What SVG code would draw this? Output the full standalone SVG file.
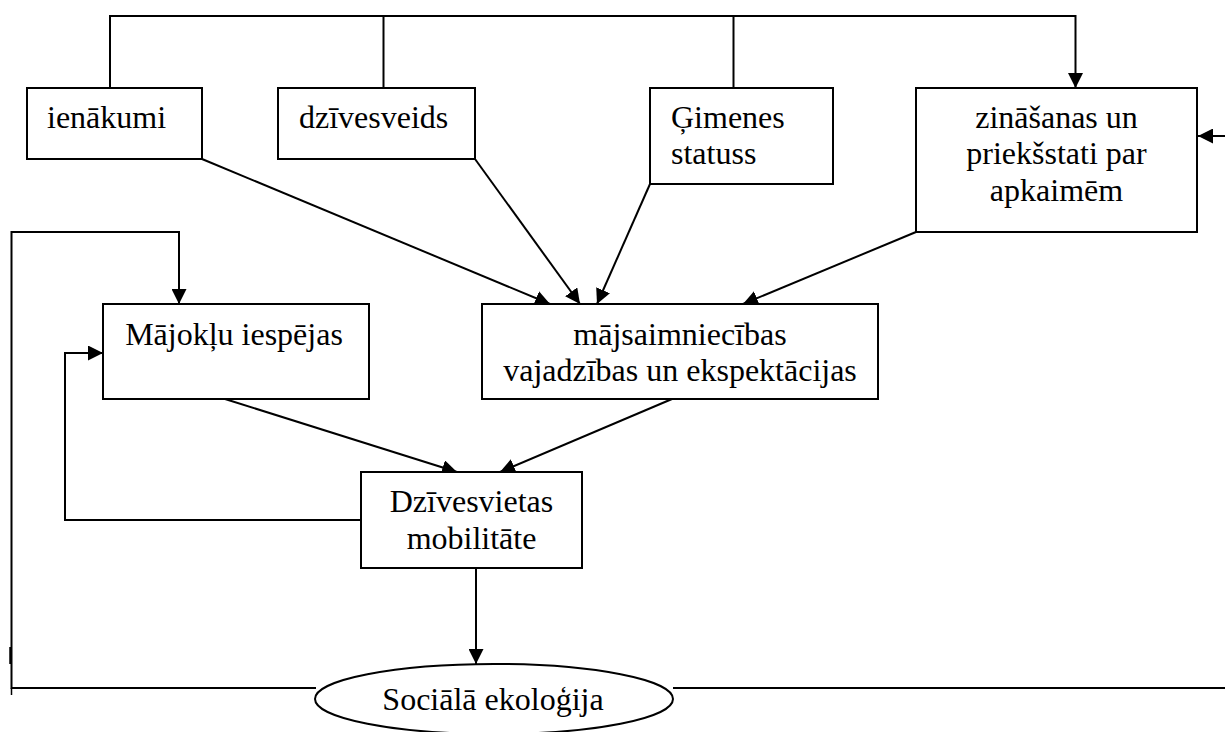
<svg xmlns="http://www.w3.org/2000/svg" width="1225" height="732" viewBox="0 0 1225 732">
<defs>
<marker id="ah" markerUnits="userSpaceOnUse" markerWidth="15" markerHeight="15" refX="15" refY="7.5" orient="auto">
<path d="M0,0 L15,7.5 L0,15 z" fill="#000"/>
</marker>
<style>
.box{fill:#fff;stroke:#000;stroke-width:2}
.t{font-family:"Liberation Serif","Times New Roman",serif;font-size:32px;fill:#000}
.m{text-anchor:middle}
.c{fill:none;stroke:#000;stroke-width:2}
.a{marker-end:url(#ah)}
</style>
</defs>
<rect width="1225" height="732" fill="#fff"/>
<g id="connectors">
<path class="c" d="M110,88 V16 H1075.5 V88" marker-end="url(#ah)"/>
<path class="c" d="M383.5,88 V16"/>
<path class="c" d="M733.5,88 V16"/>
<path class="c a" d="M1225,136 H1198"/>
<path class="c a" d="M202,159 L550,304"/>
<path class="c a" d="M475,159 L580,304"/>
<path class="c a" d="M650,184 L597,304"/>
<path class="c a" d="M916,232 L743,304"/>
<path class="c a" d="M316,688 H11.5 V232 H179 V304"/>
<path class="c" d="M11.5,688 V695" style="stroke-width:1.5"/>
<path class="c" d="M10.5,647 V664" style="stroke-width:2.5"/>
<path class="c" d="M673,688 H1225"/>
<path class="c a" d="M361,520 H65 V353 H103"/>
<path class="c a" d="M225,399 L457,472"/>
<path class="c a" d="M672,399 L500,472"/>
<path class="c a" d="M476,568 V664"/>
</g>
<g id="ienakumi">
<rect class="box" x="27" y="88" width="175" height="71"/>
<text class="t" x="47" y="128">ienākumi</text>
</g>
<g id="dzivesveids">
<rect class="box" x="278" y="88" width="197" height="71"/>
<text class="t" x="299" y="128">dzīvesveids</text>
</g>
<g id="gimenes">
<rect class="box" x="650" y="88" width="183" height="96"/>
<text class="t" x="671" y="128">Ģimenes</text>
<text class="t" x="671" y="164">statuss</text>
</g>
<g id="zinasanas">
<rect class="box" x="916" y="88" width="281" height="144"/>
<text class="t m" x="1056.5" y="128">zināšanas un</text>
<text class="t m" x="1056.5" y="164">priekšstati par</text>
<text class="t m" x="1056.5" y="201">apkaimēm</text>
</g>
<g id="majoklu">
<rect class="box" x="103" y="304" width="266" height="95"/>
<text class="t m" x="234" y="345">Mājokļu iespējas</text>
</g>
<g id="majsaimniecibas">
<rect class="box" x="482" y="304" width="396" height="95"/>
<text class="t m" x="680" y="345">mājsaimniecības</text>
<text class="t m" x="680" y="381">vajadzības un ekspektācijas</text>
</g>
<g id="dzivesvietas">
<rect class="box" x="361" y="472" width="221" height="96"/>
<text class="t m" x="471.5" y="512">Dzīvesvietas</text>
<text class="t m" x="471.5" y="549">mobilitāte</text>
</g>
<g id="socialaekologija">
<ellipse class="box" cx="494" cy="699" rx="179" ry="35"/>
<text class="t m" x="493" y="710">Sociālā ekoloģija</text>
</g>
</svg>
